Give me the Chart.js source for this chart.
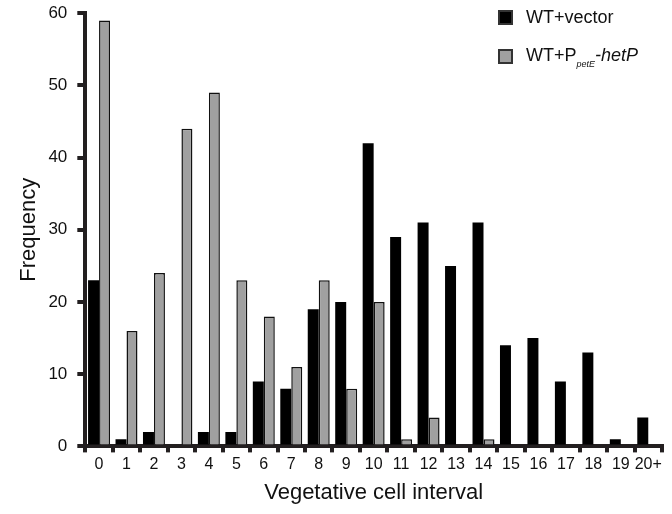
<!DOCTYPE html>
<html>
<head>
<meta charset="utf-8">
<script src="https://cdn.jsdelivr.net/npm/chart.js@4/dist/chart.umd.min.js"></script>
<style>
  html, body { margin: 0; padding: 0; background: #fff; overflow: hidden; }
  #wrap { position: relative; width: 672px; height: 514px; overflow: hidden; font-family: "Liberation Sans", Arial, sans-serif; }
  #chart { position: absolute; left: 0; top: -7px; }
  #legend { position: absolute; left: 498px; top: 10px; color: #111; font-size: 18px; }
  .row { position: absolute; left: 0; white-space: nowrap; }
  .sw { position: absolute; left: 0; width: 11px; height: 11px; border: 2px solid #333; }
  .lab { position: absolute; left: 28px; }
  sub { font-size: 9px; font-style: italic; vertical-align: -6px; }
</style>
</head>
<body>
<div id="wrap">
  <canvas id="chart" width="672" height="521"></canvas>
  <div id="legend">
    <div class="row" style="top:0"><span class="sw" style="background:#000"></span><span class="lab" style="top:-3px">WT+vector</span></div>
    <div class="row" style="top:39px"><span class="sw" style="background:#a0a0a0"></span><span class="lab" style="top:-4px">WT+P<sub>petE</sub><i>-hetP</i></span></div>
  </div>
</div>
<script>
const categories = ['0','1','2','3','4','5','6','7','8','9','10','11','12','13','14','15','16','17','18','19','20+'];
const vectorValues = [23, 1, 2, 0, 2, 2, 9, 8, 19, 20, 42, 29, 31, 25, 31, 14, 15, 9, 13, 1, 4];
const hetPValues = [59, 16, 24, 44, 49, 23, 18, 11, 23, 8, 20, 1, 4, 0, 1, 0, 0, 0, 0, 0, 0];
const yTicks = [0, 10, 20, 30, 40, 50, 60];

const axisColor = '#231f20';
const font = { family: '"Liberation Sans", Arial, sans-serif' };

new Chart(document.getElementById('chart'), {
  type: 'bar',
  data: {
    labels: categories,
    datasets: [
      { label: 'WT+vector', data: vectorValues, backgroundColor: '#000', borderColor: '#333', borderWidth: 0 },
      { label: 'WT+PpetE-hetP', data: hetPValues, backgroundColor: '#a0a0a0', borderColor: '#111', borderWidth: 1.5 }
    ]
  },
  options: {
    responsive: false,
    animation: false,
    layout: { padding: { top: 0, right: 10, left: 16, bottom: 4 } },
    plugins: { legend: { display: false }, tooltip: { enabled: false } },
    datasets: { bar: { categoryPercentage: 0.8, barPercentage: 1.0 } },
    scales: {
      x: {
        grid: { drawOnChartArea: false, color: axisColor, lineWidth: 4, tickLength: 6, offset: true },
        border: { color: axisColor, width: 4 },
        ticks: { color: '#111', font: { ...font, size: 16 }, padding: 3, maxRotation: 0, autoSkip: false },
        title: { display: true, text: 'Vegetative cell interval', color: '#111', font: { ...font, size: 22 }, padding: { top: 2 } }
      },
      y: {
        min: 0, max: 60,
        afterBuildTicks: axis => { axis.ticks = yTicks.map(v => ({ value: v })); },
        grid: { drawOnChartArea: false, color: axisColor, lineWidth: 4, tickLength: 8 },
        border: { color: axisColor, width: 4 },
        ticks: { color: '#111', font: { ...font, size: 17 }, padding: 10 },
        title: { display: true, text: 'Frequency', color: '#111', font: { ...font, size: 22 }, padding: { top: 0, bottom: -4 } }
      }
    }
  }
});
</script>
</body>
</html>
